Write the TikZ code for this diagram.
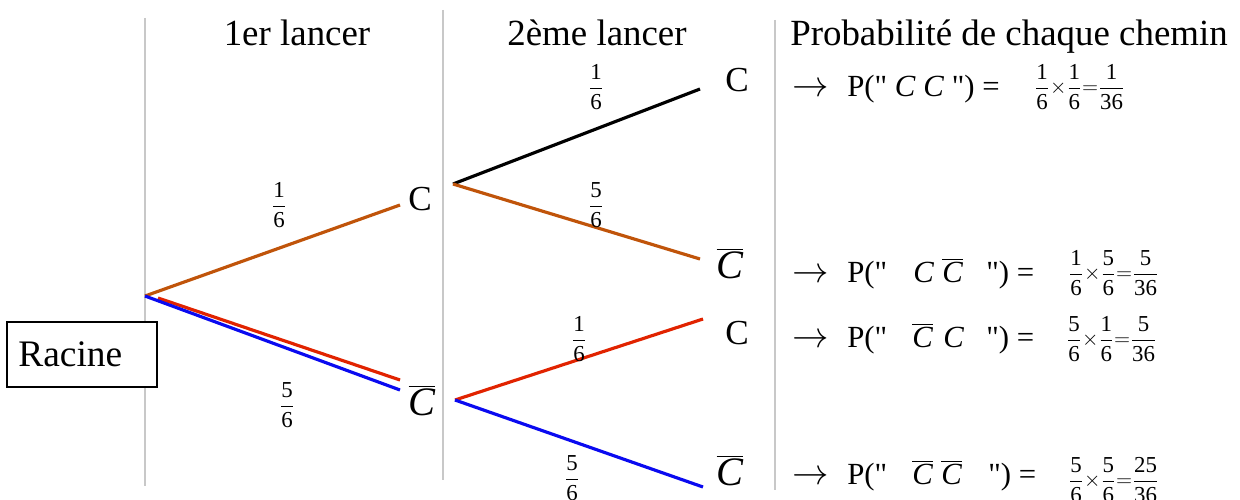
\documentclass[tikz,border=0pt]{standalone}
\usepackage{fontspec}
\setmainfont{Liberation Serif}[Ligatures=TeXOff]
\definecolor{orng}{RGB}{192,84,10}
\definecolor{rd}{RGB}{225,35,0}
\definecolor{bl}{RGB}{10,10,240}
\definecolor{gr}{RGB}{200,200,200}
\newcommand\fr[2]{$\displaystyle{\mbox{#1}\above 0.9pt\mbox{#2}}$}
\newcommand\Cb{$\overline{\mbox{\itshape C}}$}
\newcommand\Ci{\textit{C}}
\tikzset{
  vline/.style={draw=gr, line width=0.6pt},
  branch/.style={line width=1.8pt},
  hdr/.style={font=\fontsize{21}{24}\selectfont, inner sep=0, anchor=base},
  lbl/.style={font=\fontsize{13}{15}\selectfont, inner sep=0},
  nodeC/.style={font=\fontsize{20}{22}\selectfont, inner sep=0},
  nodeCb/.style={font=\fontsize{23}{26}\selectfont, inner sep=0},
  row/.style={font=\fontsize{17.5}{20}\selectfont, inner sep=0, anchor=base west},
  arr/.style={font=\fontsize{21}{24}\selectfont, inner sep=0, anchor=base west},
  rfr/.style={font=\fontsize{13}{15}\selectfont, inner sep=0, anchor=west},
}
\begin{document}
\begin{tikzpicture}[x=0.02cm, y=-0.02cm]
\useasboundingbox (0,0) rectangle (1240,500);
% vertical separators
\coordinate (v1t) at (145,18); \coordinate (v1b) at (145,486);
\coordinate (v2t) at (443,10); \coordinate (v2b) at (443,480);
\coordinate (v3t) at (775,20); \coordinate (v3b) at (775,490);
\draw[vline] (v1t) -- (v1b);
\draw[vline] (v2t) -- (v2b);
\draw[vline] (v3t) -- (v3b);
% headers
\node[hdr] (h1) at (297,46) {1er lancer};
\node[hdr] (h2) at (597,46) {2ème lancer};
\node[hdr] (h3) at (1009,46) {Probabilité de chaque chemin};
% root
\node[draw, fill=white, line width=0.75pt, minimum width=150*0.02cm, minimum height=65*0.02cm, inner sep=0] (rootbox) at (82,354.5) {};
\node[font=\fontsize{21.3}{24}\selectfont, inner sep=0, anchor=west] (racine) at (18,354) {Racine};
% branch points
\coordinate (r) at (145,296);
\coordinate (r2) at (158,298);
\coordinate (aC) at (400,205);
\coordinate (aCr) at (400,380);
\coordinate (aCb) at (400,390);
\coordinate (bC) at (453,184);
\coordinate (bCb) at (455,400);
\coordinate (cCC) at (700,89);
\coordinate (cCCb) at (700,259);
\coordinate (cCbC) at (703,319);
\coordinate (cCbCb) at (703,487);
% level 1
\draw[branch, orng] (r) -- (aC);
\draw[branch, rd] (r2) -- (aCr);
\draw[branch, bl] (r) -- (aCb);
% level 2
\draw[branch, black] (bC) -- (cCC);
\draw[branch, orng] (bC) -- (cCCb);
\draw[branch, rd] (bCb) -- (cCbC);
\draw[branch, bl] (bCb) -- (cCbCb);
% node labels
\node[nodeC] (nC1) at (420,199) {C};
\node[nodeCb] (nCb1) at (422,401) {\Cb};
\node[nodeC] (nC2) at (737,80) {C};
\node[nodeCb] (nCb2) at (730,264) {\Cb};
\node[nodeC] (nC3) at (737,333) {C};
\node[nodeCb] (nCb3) at (730,471) {\Cb};
% probabilities on branches
\node[lbl] (p1) at (279,205) {\fr{1}{6}};
\node[lbl] (p2) at (287,405) {\fr{5}{6}};
\node[lbl] (p3) at (596,87) {\fr{1}{6}};
\node[lbl] (p4) at (596,205) {\fr{5}{6}};
\node[lbl] (p5) at (579,339) {\fr{1}{6}};
\node[lbl] (p6) at (572,478) {\fr{5}{6}};
% right column
\node[arr] (a1) at (792,96) {$\rightarrow$};
\node[row] (t1) at (847,96) {P(" \Ci\ \Ci\ ") =};
\node[rfr] (f1) at (1034,87) {\fr{1}{6}$\times$\fr{1}{6}$=$\fr{1}{36}};
\node[arr] (a2) at (792,282) {$\rightarrow$};
\node[row] (t2) at (847,282) {P("};
\node[row] (c2a) at (913,282) {\Ci};
\node[row] (c2b) at (942,282) {\Cb};
\node[row] (e2) at (986,282) {") =};
\node[rfr] (f2) at (1068,273) {\fr{1}{6}$\times$\fr{5}{6}$=$\fr{5}{36}};
\node[arr] (a3) at (792,347) {$\rightarrow$};
\node[row] (t3) at (847,347) {P("};
\node[row] (c3a) at (912,347) {\Cb};
\node[row] (c3b) at (943,347) {\Ci};
\node[row] (e3) at (986,347) {") =};
\node[rfr] (f3) at (1066,339) {\fr{5}{6}$\times$\fr{1}{6}$=$\fr{5}{36}};
\node[arr] (a4) at (792,484) {$\rightarrow$};
\node[row] (t4) at (847,484) {P("};
\node[row] (c4a) at (912,484) {\Cb};
\node[row] (c4b) at (941,484) {\Cb};
\node[row] (e4) at (988,484) {") =};
\node[rfr] (f4) at (1068,480) {\fr{5}{6}$\times$\fr{5}{6}$=$\fr{25}{36}};
\end{tikzpicture}
\end{document}
